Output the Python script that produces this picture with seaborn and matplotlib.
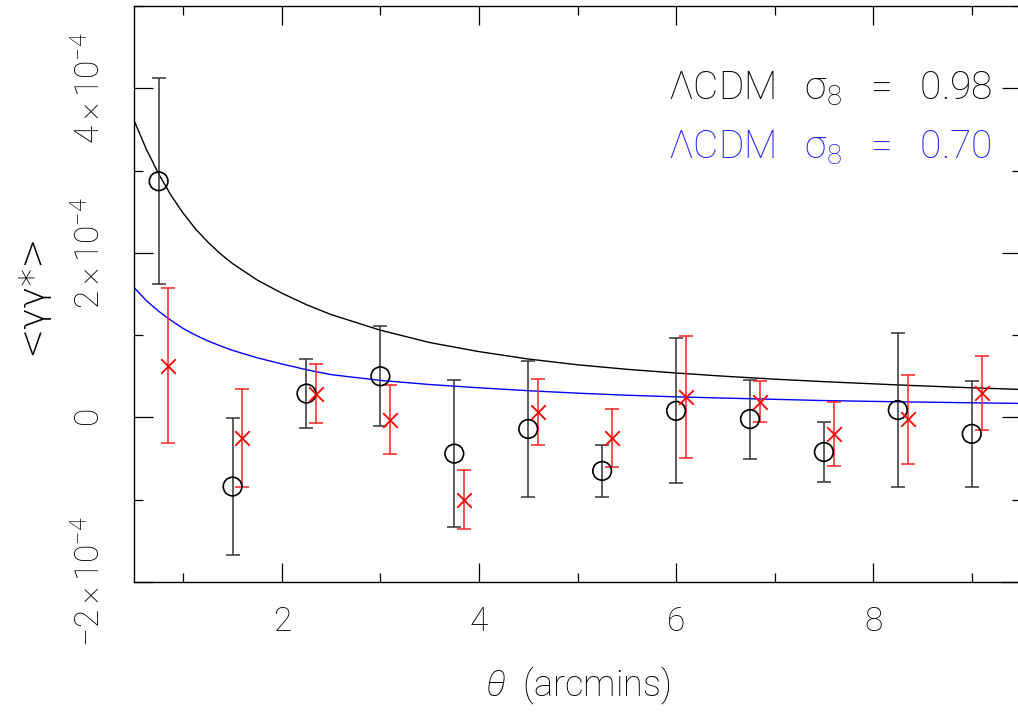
import numpy as np
import pandas as pd
import matplotlib
matplotlib.use("Agg")
import matplotlib.pyplot as plt
import seaborn as sns
from matplotlib.ticker import MultipleLocator

# ---------------- data (values in units of 1e-4) ----------------
theta_obs = [0.75, 1.5, 2.25, 3.0, 3.75, 4.5, 5.25, 6.0, 6.75, 7.5, 8.25, 9.0]
gg_black = [2.87, -0.84, 0.29, 0.50, -0.44, -0.14, -0.65, 0.08, -0.02, -0.42, 0.09, -0.20]
err_black = [1.25, 0.83, 0.42, 0.61, 0.89, 0.83, 0.32, 0.88, 0.48, 0.36, 0.94, 0.64]

theta_red = [0.85, 1.6, 2.35, 3.1, 3.85, 4.6, 5.35, 6.1, 6.85, 7.6, 8.35, 9.1]
gg_red = [0.63, -0.25, 0.29, -0.03, -1.00, 0.07, -0.25, 0.25, 0.19, -0.20, -0.02, 0.30]
err_red = [0.94, 0.60, 0.36, 0.42, 0.36, 0.40, 0.35, 0.74, 0.25, 0.39, 0.54, 0.45]

theta_model = [0.5, 0.625, 0.75, 0.875, 1.0, 1.125, 1.25, 1.375, 1.5, 1.75, 2.0, 2.25,
               2.5, 3.0, 3.5, 4.0, 4.5, 5.0, 5.5, 6.0, 6.5, 7.0, 7.5, 8.25, 9.0, 9.5]
model_098 = [3.61, 3.26, 2.96, 2.70, 2.48, 2.29, 2.13, 1.99, 1.87, 1.67, 1.51, 1.37,
             1.25, 1.06, 0.91, 0.80, 0.71, 0.64, 0.585, 0.54, 0.50, 0.465, 0.435, 0.395,
             0.36, 0.34]
model_070 = [1.58, 1.42, 1.29, 1.18, 1.08, 1.00, 0.93, 0.87, 0.815, 0.725, 0.65, 0.58,
             0.52, 0.45, 0.40, 0.36, 0.325, 0.295, 0.27, 0.25, 0.235, 0.22, 0.205, 0.19,
             0.178, 0.17]

ytick_vals = [-2, 0, 2, 4]
ytick_labels = [r"$-2\times10^{-4}$", r"$0$", r"$2\times10^{-4}$", r"$4\times10^{-4}$"]
xtick_vals = [2, 4, 6, 8]
xtick_labels = ["2", "4", "6", "8"]
label_098 = r"$\Lambda$CDM   $\sigma_{8}$   =   0.98"
label_070 = r"$\Lambda$CDM   $\sigma_{8}$   =   0.70"
ylabel_text = "<γγ*>"
xlabel_text = r"$\mathit{\theta}$  (arcmins)"

SCALE = 1e-4

# ---------------- style ----------------
sns.set_theme(style="ticks")
FONT = "Roboto"
plt.rcParams["font.family"] = [FONT, "DejaVu Sans"]
plt.rcParams["font.weight"] = "light"
plt.rcParams["axes.labelweight"] = "light"
plt.rcParams["mathtext.fontset"] = "custom"
plt.rcParams["mathtext.rm"] = FONT + ":light"
plt.rcParams["mathtext.it"] = FONT + ":italic:light"
plt.rcParams["mathtext.default"] = "regular"
for k in ["text.color", "axes.labelcolor", "xtick.color", "ytick.color", "axes.edgecolor"]:
    plt.rcParams[k] = "black"

fig = plt.figure(figsize=(10.18, 7.21), dpi=100)
ax = fig.add_axes([134 / 1018, 1 - 582 / 721, (1021 - 134) / 1018, (582 - 6) / 721])

# model curves
df_m = pd.DataFrame({"theta": theta_model,
                     "m098": np.array(model_098) * SCALE,
                     "m070": np.array(model_070) * SCALE})
sns.lineplot(data=df_m, x="theta", y="m098", ax=ax, color="black", lw=1.0)
sns.lineplot(data=df_m, x="theta", y="m070", ax=ax, color="#0000ff", lw=1.0)

# error bars
ax.errorbar(theta_obs, np.array(gg_black) * SCALE, yerr=np.array(err_black) * SCALE,
            fmt="none", ecolor="#333333", elinewidth=1.1, capsize=5, capthick=1.1)
ax.errorbar(theta_red, np.array(gg_red) * SCALE, yerr=np.array(err_red) * SCALE,
            fmt="none", ecolor="#ff2020", elinewidth=1.1, capsize=5, capthick=1.1)

# markers
df_b = pd.DataFrame({"theta": theta_obs, "g": np.array(gg_black) * SCALE})
df_r = pd.DataFrame({"theta": theta_red, "g": np.array(gg_red) * SCALE})
sns.scatterplot(data=df_b, x="theta", y="g", ax=ax, marker="o", s=180,
                facecolor="none", edgecolor="black", linewidth=1.2, zorder=5)
sns.scatterplot(data=df_r, x="theta", y="g", ax=ax, marker="x", s=110,
                color="red", linewidth=1.3, zorder=5)

ax.set_xlim(0.5, 9.5)
ax.set_ylim(-2 * SCALE, 5 * SCALE)

ax.set_xticks(xtick_vals)
ax.set_xticklabels(xtick_labels, fontsize=24, fontweight="light")
ax.xaxis.set_minor_locator(MultipleLocator(1))
ax.set_yticks([v * SCALE for v in ytick_vals])
ax.set_yticklabels(ytick_labels, fontsize=24, rotation=90, va="center", fontweight="light")
ax.yaxis.set_minor_locator(MultipleLocator(1 * SCALE))

ax.tick_params(which="both", direction="in", top=True, right=True, width=0.9, color="black")
ax.tick_params(which="major", length=13.7)
ax.tick_params(which="minor", length=6.5)
ax.tick_params(axis="x", which="major", pad=17)
ax.tick_params(axis="y", which="major", pad=20)
for sp in ax.spines.values():
    sp.set_linewidth(1.0)
    sp.set_color("black")

ax.set_xlabel(xlabel_text, fontsize=26, labelpad=20, fontweight="light")
ax.set_ylabel(ylabel_text, fontsize=26, labelpad=18,
              fontfamily=["DejaVu Sans"], fontweight="light")

ax.text(0.967, 0.857, label_098, transform=ax.transAxes, ha="right", va="center",
        fontsize=28, color="black", fontweight="light")
ax.text(0.967, 0.754, label_070, transform=ax.transAxes, ha="right", va="center",
        fontsize=28, color="#2020ff", fontweight="light")

fig.savefig("out.png", dpi=100)
